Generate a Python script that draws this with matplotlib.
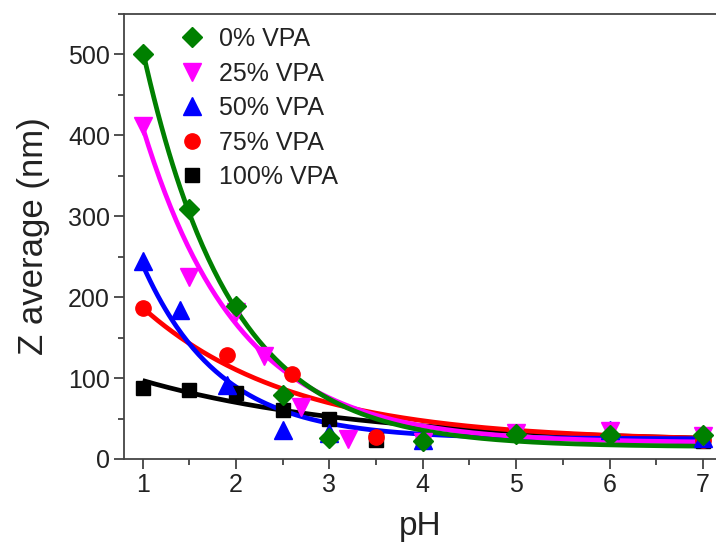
import numpy as np
import matplotlib
matplotlib.use("Agg")
import matplotlib.pyplot as plt
from matplotlib.ticker import MultipleLocator

plt.rcParams['font.family'] = ['Liberation Sans', 'DejaVu Sans']

labels = ["0% VPA", "25% VPA", "50% VPA", "75% VPA", "100% VPA"]
colors = ["#008000", "#ff00ff", "#0000ff", "#ff0000", "#000000"]
markers = ["D", "v", "^", "o", "s"]
msizes = [10.5, 12.5, 12.5, 11, 9.5]

ph_0 = [1, 1.5, 2, 2.5, 3, 4, 5, 6, 7]
z_0 = [500, 309, 189, 79, 26, 22, 31, 30, 30]
ph_25 = [1, 1.5, 2, 2.3, 2.7, 3.2, 4, 5, 6, 7]
z_25 = [412, 225, 182, 127, 64, 25, 21, 32, 34, 28]
ph_50 = [1, 1.4, 1.9, 2.5, 3, 4, 6, 7]
z_50 = [245, 184, 91, 36, 32, 24, 36, 26]
ph_75 = [1, 1.9, 2.6, 3.5, 4, 7]
z_75 = [187, 129, 105, 27, 22, 24]
ph_100 = [1, 1.5, 2, 2.5, 3, 3.5, 4, 7]
z_100 = [88, 85, 81, 60, 50, 23, 22, 22]

# exponential-decay fit parameters: y0, A, t
fit_y0 = [15, 20, 25, 22, 20]
fit_A = [490, 390, 215, 165, 77]
fit_t = [0.944, 1.025, 0.826, 1.6, 2.31]

xs = [ph_0, ph_25, ph_50, ph_75, ph_100]
ys = [z_0, z_25, z_50, z_75, z_100]

fig = plt.figure(figsize=(7.16, 5.43), dpi=100)
ax = fig.add_axes([124/716, 84/543, 1 - 124/716, (459-14)/543])

xx = np.linspace(1, 7, 300)
line_order = [4, 3, 2, 1, 0]
for i in line_order:
    yy = fit_y0[i] + fit_A[i] * np.exp(-(xx - 1) / fit_t[i])
    ax.plot(xx, yy, color=colors[i], lw=3.4, zorder=2 + (4 - i) * 0.1, solid_capstyle='butt')

handles = []
for i in line_order:
    h, = ax.plot(xs[i], ys[i], linestyle='none', marker=markers[i], ms=msizes[i],
                 color=colors[i], mec=colors[i], zorder=3 + (4 - i) * 0.1, label=labels[i])
    handles.append(h)
handles = handles[::-1]

ax.set_xlim(0.8, 7.14)
ax.set_ylim(0, 550)
ax.xaxis.set_major_locator(MultipleLocator(1))
ax.xaxis.set_minor_locator(MultipleLocator(0.5))
ax.yaxis.set_major_locator(MultipleLocator(100))
ax.yaxis.set_minor_locator(MultipleLocator(50))
ax.tick_params(which='major', direction='out', length=7, width=1.2, labelsize=18,
               colors='#333333', labelcolor='#222222', pad=3)
ax.tick_params(which='minor', direction='out', length=4.5, width=1.2, colors='#333333')
for s in ['left', 'bottom', 'top']:
    ax.spines[s].set_color('#444444')
    ax.spines[s].set_linewidth(1.3)
ax.spines['right'].set_visible(False)

ax.set_xlabel("pH", fontsize=24, color='#222222', labelpad=10)
ax.set_ylabel("Z average (nm)", fontsize=25, color='#222222', labelpad=13)

leg = ax.legend(handles=handles, loc='upper left', bbox_to_anchor=(0.065, 1.01),
                frameon=False, fontsize=18, handlelength=1.0, handletextpad=0.55,
                labelspacing=0.42, borderaxespad=0.3, numpoints=1)
for t in leg.get_texts():
    t.set_color('#222222')

fig.savefig("out.png", dpi=100)
